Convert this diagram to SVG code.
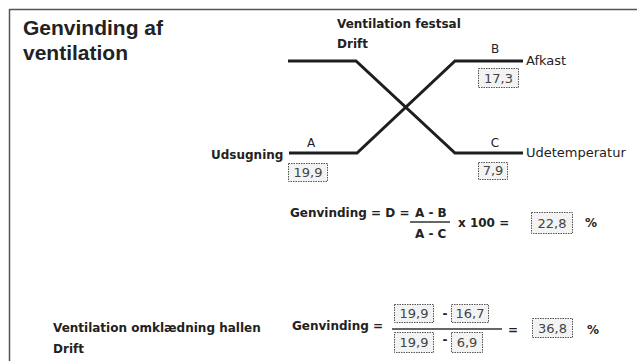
<svg xmlns="http://www.w3.org/2000/svg" width="637" height="361" viewBox="0 0 637 361">
<style>
.t{font-family:"DejaVu Sans",Verdana,sans-serif;fill:#222}
.b{font-weight:bold;font-size:12px}
.r{font-size:13px}
.lbl{font-family:"DejaVu Sans",Verdana,sans-serif;font-size:12px;fill:#222;text-anchor:middle}
.title{font-family:"Liberation Sans",Arial,sans-serif;font-weight:bold;font-size:21px;fill:#222}
.box{fill:#f3f3f3;stroke:#555;stroke-width:1;stroke-dasharray:1.5 1}
.bn{font-family:"DejaVu Sans",Verdana,sans-serif;font-size:13px;fill:#444;text-anchor:middle}
.duct{fill:none;stroke:#1e1e1e;stroke-width:3;stroke-linejoin:miter}
.frac{stroke:#333;stroke-width:1.5}
</style>
<rect width="637" height="361" fill="#fff"/>
<g id="frame">
<line x1="9" y1="9.5" x2="637" y2="9.5" stroke="#555" stroke-width="1.5"/>
<line x1="9.5" y1="9" x2="9.5" y2="361" stroke="#555" stroke-width="1.5"/>
</g>
<g id="title">
<text class="title" x="23" y="35">Genvinding af</text>
<text class="title" x="23" y="60">ventilation</text>
</g>
<g id="connectors">
<polyline class="duct" points="288,61 356,61 455,153 523,153"/>
<polyline class="duct" points="289,153 357,153 455,61 523,61"/>
</g>
<g id="header">
<text class="t b" x="337" y="28">Ventilation festsal</text>
<text class="t b" x="337" y="48">Drift</text>
</g>
<g id="node-A">
<text class="t b" x="211" y="159">Udsugning</text>
<text class="lbl" x="311" y="147">A</text>
<rect class="box" x="288.5" y="163.5" width="39" height="18"/>
<text class="bn" x="308" y="177">19,9</text>
</g>
<g id="node-B">
<text class="lbl" x="495" y="53">B</text>
<text class="t r" x="526" y="65">Afkast</text>
<rect class="box" x="478.5" y="68.5" width="40" height="19"/>
<text class="bn" x="498.5" y="83">17,3</text>
</g>
<g id="node-C">
<text class="lbl" x="495" y="147">C</text>
<text class="t r" x="526" y="157">Udetemperatur</text>
<rect class="box" x="478.5" y="162.5" width="29" height="17"/>
<text class="bn" x="493" y="175">7,9</text>
</g>
<g id="formula1">
<text class="t b" x="290" y="217">Genvinding = D =</text>
<text class="t b" x="415" y="217">A - B</text>
<line class="frac" x1="410" y1="222" x2="450" y2="222"/>
<text class="t b" x="415" y="238">A - C</text>
<text class="t b" font-size="11" x="458" y="227">x 100 =</text>
<rect class="box" x="531.5" y="212.5" width="41" height="21"/>
<text class="bn" x="552" y="228">22,8</text>
<text class="t b" x="585" y="227">%</text>
</g>
<g id="hall">
<text class="t b" x="53" y="332">Ventilation omklædning hallen</text>
<text class="t b" x="53" y="353">Drift</text>
</g>
<g id="formula2">
<text class="t b" x="292" y="330">Genvinding =</text>
<rect class="box" x="394.5" y="304.5" width="39" height="18"/>
<text class="bn" x="414" y="318">19,9</text>
<text class="t b" x="445" y="318" text-anchor="middle">-</text>
<rect class="box" x="451.5" y="304.5" width="37" height="18"/>
<text class="bn" x="470" y="318">16,7</text>
<line class="frac" x1="392" y1="329" x2="502" y2="329"/>
<rect class="box" x="394.5" y="332.5" width="39" height="20"/>
<text class="bn" x="414" y="347">19,9</text>
<text class="t b" x="445" y="344" text-anchor="middle">-</text>
<rect class="box" x="451.5" y="332.5" width="31" height="20"/>
<text class="bn" x="467" y="347">6,9</text>
<text class="t b" x="513" y="334" text-anchor="middle">=</text>
<rect class="box" x="532.5" y="318.5" width="40" height="19"/>
<text class="bn" x="552.5" y="333">36,8</text>
<text class="t b" x="587" y="334">%</text>
</g>
</svg>
